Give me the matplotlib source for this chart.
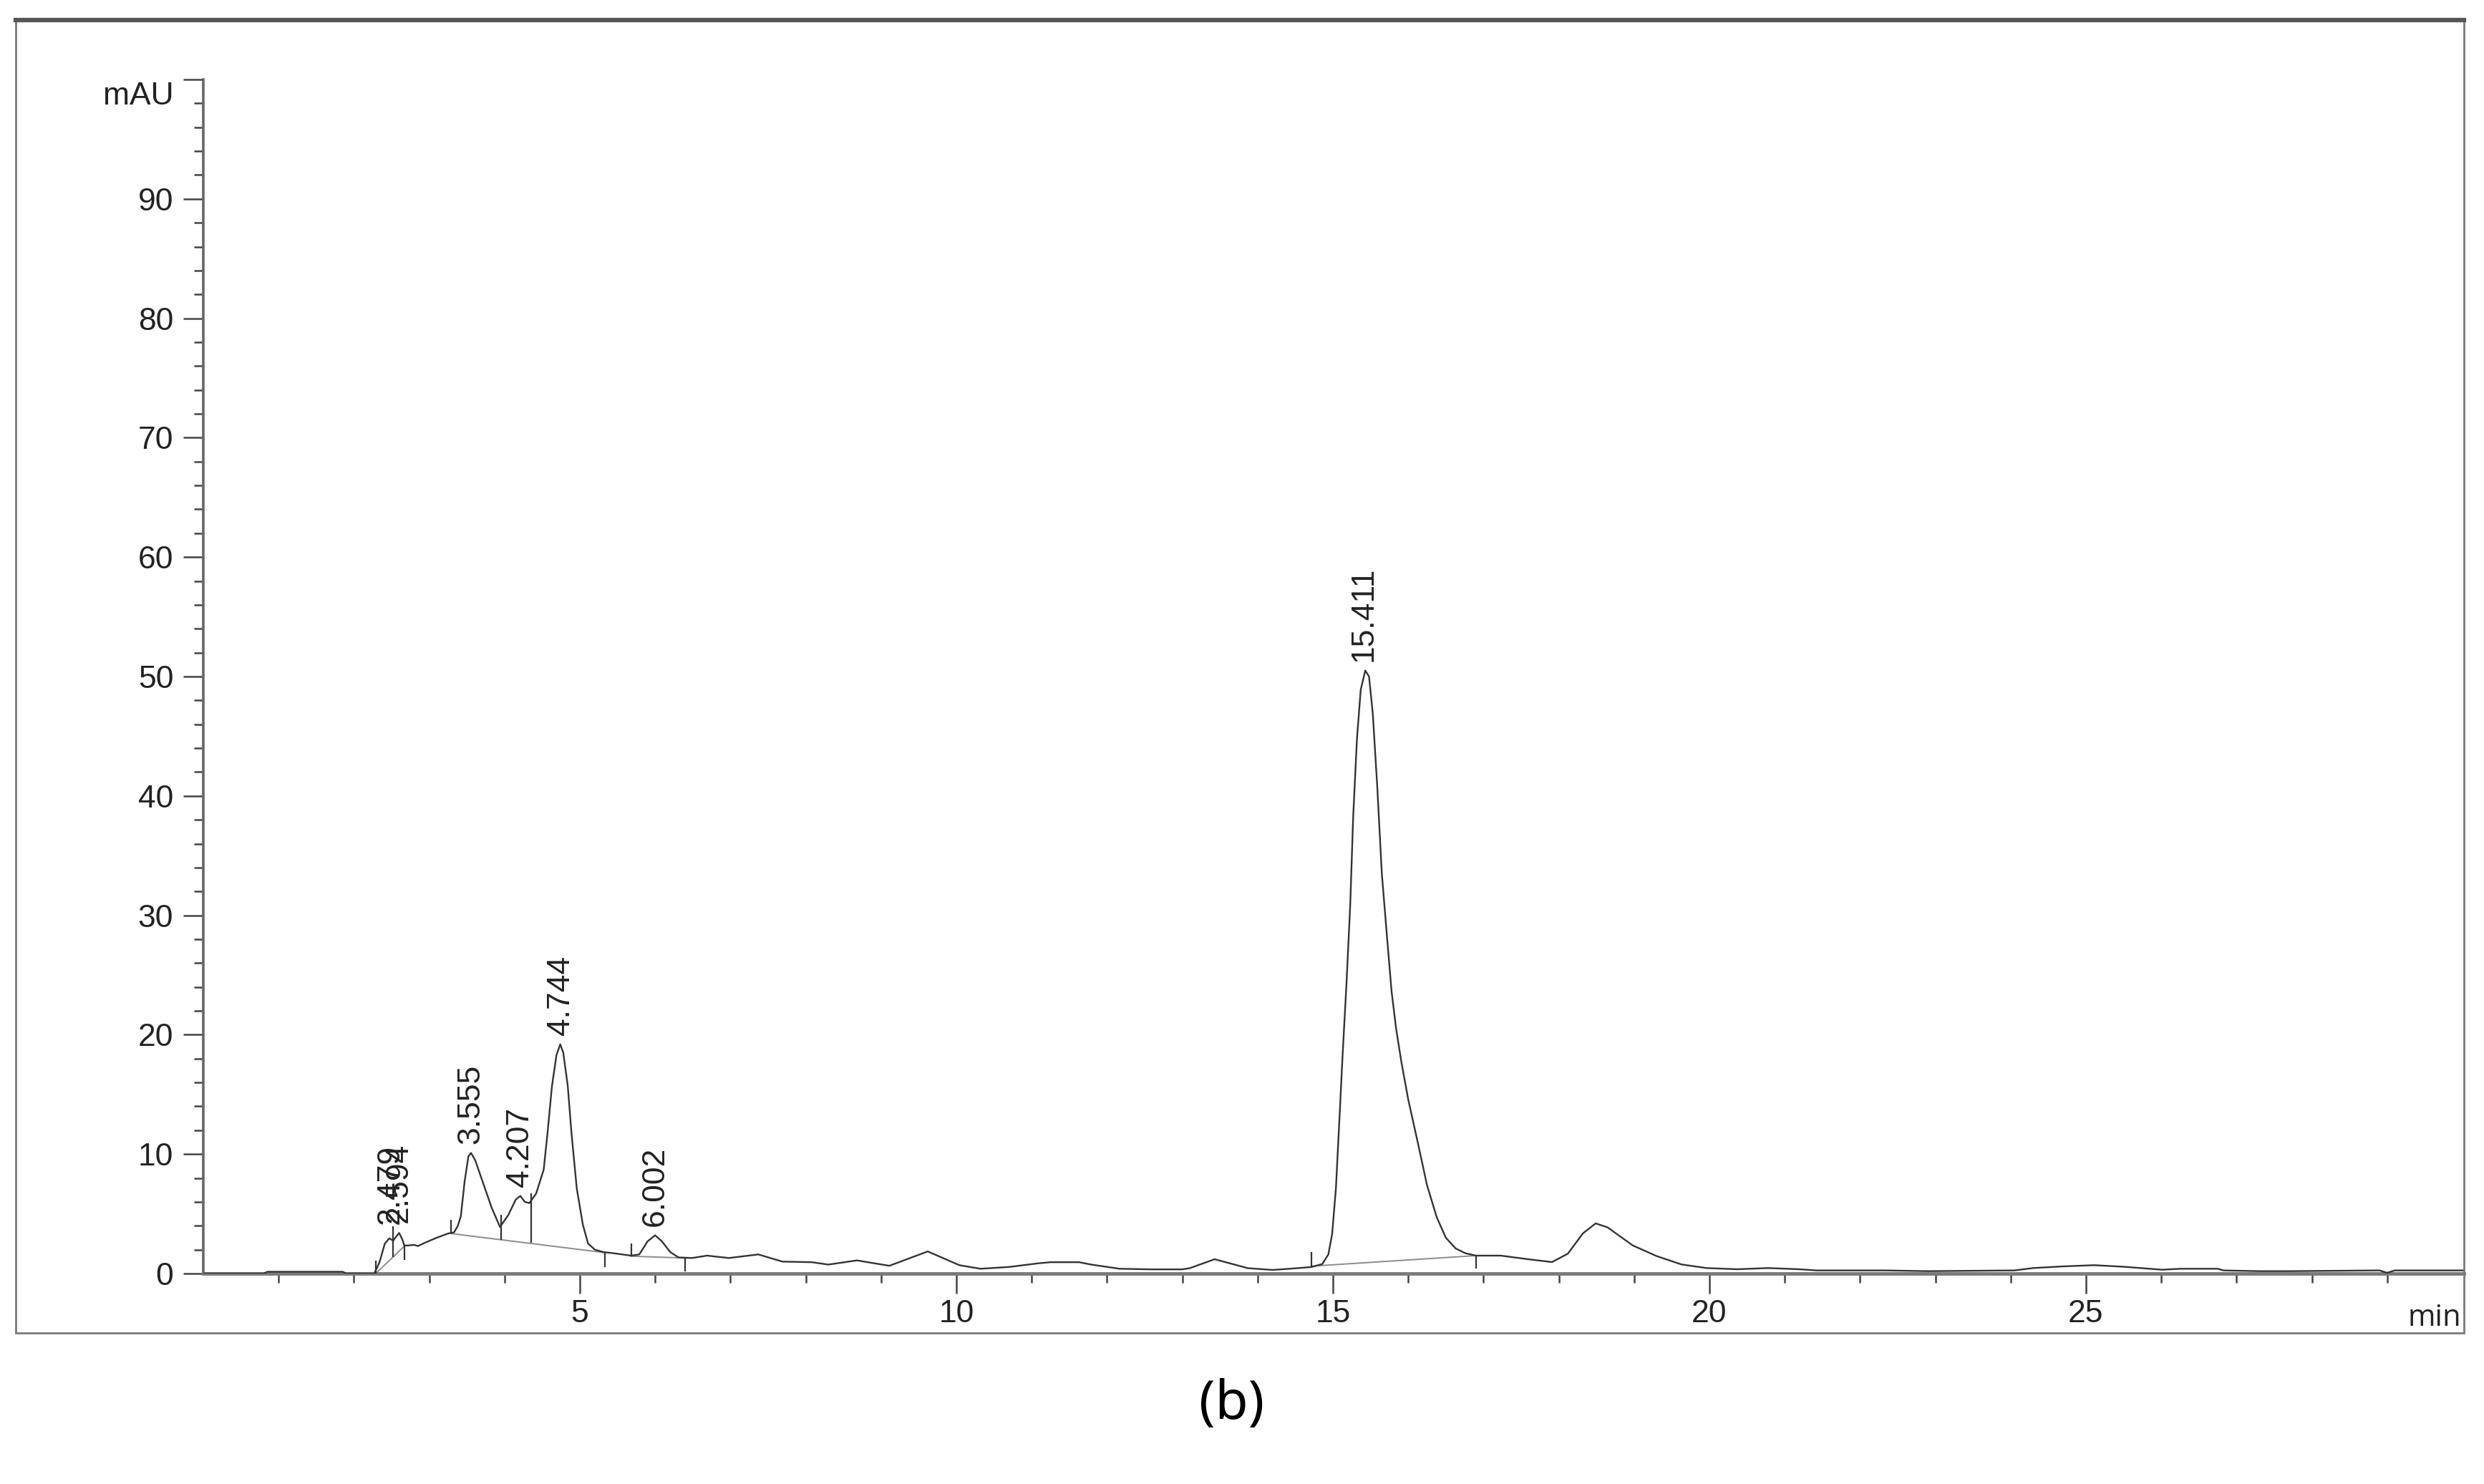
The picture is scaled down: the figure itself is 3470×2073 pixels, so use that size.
import matplotlib.pyplot as plt
from matplotlib.patches import Rectangle
from matplotlib.lines import Line2D

plt.rcParams['font.family'] = ['Liberation Sans', 'DejaVu Sans']

# Chromatogram trace (time in min, signal in mAU)
time_min = [0.0, 0.80, 0.85, 1.85, 1.90, 2.27, 2.30, 2.34, 2.41, 2.47,
            2.52, 2.60, 2.64, 2.67, 2.72, 2.80, 2.85, 2.95, 3.10, 3.25,
            3.33, 3.38, 3.42, 3.47, 3.52, 3.555, 3.61, 3.72, 3.83, 3.94,
            4.05, 4.15, 4.21, 4.27, 4.33, 4.42, 4.52, 4.57, 4.63, 4.69,
            4.74, 4.78, 4.84, 4.89, 4.96, 5.04, 5.11, 5.20, 5.31, 5.45,
            5.68, 5.79, 5.90, 6.00, 6.09, 6.20, 6.31, 6.49, 6.69, 6.98,
            7.37, 7.69, 8.08, 8.30, 8.68, 9.11, 9.62, 10.04, 10.32, 10.70,
            11.08, 11.25, 11.63, 11.79, 12.17, 12.60, 13.00, 13.10, 13.43, 13.87,
            14.20, 14.53, 14.72, 14.86, 14.94, 14.99, 15.04, 15.09, 15.13, 15.18,
            15.23, 15.27, 15.32, 15.37, 15.43, 15.48, 15.53, 15.59, 15.65, 15.72,
            15.78, 15.84, 15.91, 16.00, 16.13, 16.25, 16.38, 16.50, 16.63, 16.76,
            16.90, 17.23, 17.59, 17.91, 18.12, 18.32, 18.49, 18.65, 18.98, 19.30,
            19.63, 19.96, 20.37, 20.78, 21.19, 21.43, 22.33, 22.90, 24.05, 24.30,
            24.70, 25.11, 25.52, 26.01, 26.26, 26.75, 26.83, 27.30, 27.70, 28.90,
            29.00, 29.10, 30.02]
signal_mau = [0.0, 0.0, 0.15, 0.15, 0.0, 0.0, 0.4, 0.95, 2.5, 2.95,
              2.75, 3.4, 2.9, 2.35, 2.35, 2.4, 2.3, 2.6, 3.0, 3.35,
              3.45, 4.0, 4.8, 7.7, 9.8, 10.1, 9.5, 7.5, 5.5, 3.9,
              4.9, 6.2, 6.5, 6.0, 5.9, 6.7, 8.7, 11.7, 15.7, 18.3,
              19.2, 18.5, 15.7, 11.7, 7.1, 4.1, 2.5, 2.0, 1.8, 1.7,
              1.5, 1.6, 2.7, 3.2, 2.7, 1.8, 1.35, 1.3, 1.5, 1.3,
              1.6, 1.0, 0.95, 0.75, 1.1, 0.65, 1.85, 0.7, 0.4, 0.55,
              0.85, 0.95, 0.95, 0.75, 0.4, 0.35, 0.35, 0.45, 1.2, 0.45,
              0.3, 0.45, 0.55, 0.8, 1.6, 3.3, 7.1, 13.3, 18.4, 24.2,
              30.8, 38.3, 44.8, 48.9, 50.5, 50.0, 46.9, 40.7, 33.5, 28.1,
              23.6, 20.5, 17.7, 14.6, 10.9, 7.4, 4.7, 3.0, 2.1, 1.7,
              1.5, 1.5, 1.2, 0.96, 1.66, 3.36, 4.2, 3.86, 2.36, 1.46,
              0.76, 0.46, 0.36, 0.46, 0.36, 0.26, 0.26, 0.2, 0.26, 0.46,
              0.6, 0.7, 0.56, 0.32, 0.4, 0.4, 0.26, 0.2, 0.2, 0.26,
              0.06, 0.26, 0.26]

# Peak labels (retention times) and the signal height they sit above
peak_times = [2.479, 2.594, 3.555, 4.207, 4.744, 6.002, 15.411]
peak_heights = [3.4, 3.5, 10.1, 6.5, 19.2, 3.2, 50.5]
peak_labels = ['2.479', '2.594', '3.555', '4.207', '4.744', '6.002', '15.411']

# Integration baselines: start time/value, end time/value
base_t0 = [2.29, 3.29, 5.68, 14.72]
base_v0 = [0.0, 3.35, 1.45, 0.62]
base_t1 = [2.67, 5.33, 6.40, 16.90]
base_v1 = [2.3, 1.75, 1.30, 1.50]

# Peak start / end / drop-line marks
mark_t = [2.29, 2.52, 2.67, 3.29, 3.95, 4.35, 5.33, 5.68, 6.40, 14.72, 16.90]
mark_lo = [0.0, 1.39, 1.15, 3.35, 2.84, 2.55, 0.55, 1.45, 0.15, 0.62, 0.40]
mark_hi = [1.1, 3.96, 2.35, 4.50, 4.90, 6.70, 1.75, 2.50, 1.30, 1.80, 1.50]

W, H = 3470, 2073
fig = plt.figure(figsize=(W / 100, H / 100), dpi=100)
ax = fig.add_axes([284 / W, 1 - 1779 / H, (3442 - 284) / W, (1779 - 111) / H])

ax.plot(time_min, signal_mau, color='#333333', lw=1.7, zorder=3)
for t0, v0, t1, v1 in zip(base_t0, base_v0, base_t1, base_v1):
    ax.plot([t0, t1], [v0, v1], color='#8c8c8c', lw=1.4, zorder=2)
ax.vlines(mark_t, mark_lo, mark_hi, color='#333333', lw=1.6, zorder=3)

for t, h, lbl in zip(peak_times, peak_heights, peak_labels):
    ax.annotate(lbl, (t, h), xytext=(0, 9), textcoords='offset points',
                rotation=90, ha='center', va='bottom', fontsize=32, color='#222222')

ax.set_xlim(0, 30.02)
ax.set_ylim(0, 100)

ax.set_xticks([5, 10, 15, 20, 25])
ax.set_xticks([i for i in range(1, 30) if i % 5], minor=True)
ax.set_yticks(range(0, 101, 10))
ax.set_yticklabels([str(v) for v in range(0, 100, 10)] + [''])
ax.set_yticks([v for v in range(0, 100, 2) if v % 10], minor=True)

ax.tick_params(axis='both', which='major', length=20, width=1.8, color='#444444',
               labelsize=32, labelcolor='#222222')
ax.tick_params(axis='both', which='minor', length=9.5, width=1.8, color='#444444')
ax.tick_params(axis='x', which='major', pad=6)
ax.tick_params(axis='y', which='major', pad=10)

for side in ['top', 'right']:
    ax.spines[side].set_visible(False)
ax.spines['left'].set_color('#666666')
ax.spines['left'].set_linewidth(2.6)
ax.spines['bottom'].set_color('#7a7a7a')
ax.spines['bottom'].set_linewidth(3.5)

fig.text(243 / W, 1 - 134 / H, 'mAU', ha='right', va='center', fontsize=32, color='#222222')
fig.text(3438 / W, 1 - 1852 / H, 'min', ha='right', va='baseline', fontsize=30,
         color='#222222', family=['Open Sans', 'DejaVu Sans'])

# outer frame of the instrument printout
fig.add_artist(Rectangle((22 / W, 1 - 1862 / H), (3442 - 22) / W, (1862 - 28) / H,
                         transform=fig.transFigure, fill=False, ec='#7a7a7a', lw=2))
fig.add_artist(Line2D([22 / W, 3442 / W], [1 - 28 / H, 1 - 28 / H],
                      transform=fig.transFigure, color='#555555', lw=4.5))

fig.text(1721 / W, 1 - 1962 / H, '(b)', ha='center', va='center', fontsize=54,
         color='black', family=['Noto Sans', 'DejaVu Sans'])

fig.savefig('out.png', dpi=100)
